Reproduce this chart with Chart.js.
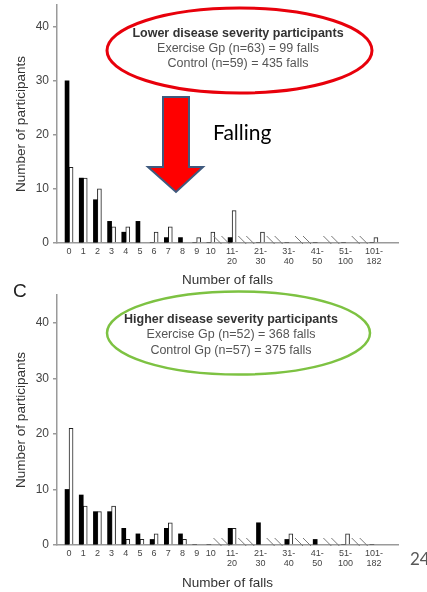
<!DOCTYPE html>
<html>
<head>
<meta charset="utf-8">
<script src="https://cdn.jsdelivr.net/npm/chart.js@4.4.1/dist/chart.umd.min.js"></script>
<style>
  html, body { margin: 0; padding: 0; background: #fff; }
  #wrap { position: relative; width: 427px; height: 592px; overflow: hidden; }
  .box { position: absolute; left: 0; width: 427px; }
  svg { position: absolute; left: 0; top: 0; }
</style>
</head>
<body>
<div id="wrap">
  <div class="box" style="top:0;height:290px"><canvas id="lowerChart"></canvas></div>
  <div class="box" style="top:290px;height:302px"><canvas id="higherChart"></canvas></div>
  <svg width="427" height="592" xmlns="http://www.w3.org/2000/svg">
    <ellipse cx="239.5" cy="50.5" rx="132.5" ry="42.5" fill="none" stroke="#e8000b" stroke-width="3"/>
    <text x="238" y="37" text-anchor="middle" font-family="Liberation Sans, Arial" font-size="12.5" font-weight="bold" fill="#333">Lower disease severity participants</text>
    <text x="238" y="52" text-anchor="middle" font-family="Liberation Sans, Arial" font-size="12.5" fill="#555">Exercise Gp (n=63) = 99 falls</text>
    <text x="238" y="67" text-anchor="middle" font-family="Liberation Sans, Arial" font-size="12.5" fill="#555">Control (n=59) = 435 falls</text>

    <path d="M163,97 L189,97 L189,167 L203,167 L176,192 L148,167 L163,167 Z" fill="#ff0000" stroke="#3f5a7e" stroke-width="2"/>
    <text x="213" y="140" font-family="Lato, sans-serif" font-size="21" fill="#000">Falling</text>

    <text x="13" y="297" font-family="Liberation Sans, Arial" font-size="19" fill="#222">C</text>

    <ellipse cx="238.5" cy="333" rx="131.5" ry="41.5" fill="none" stroke="#7dc242" stroke-width="2.5"/>
    <text x="231" y="323" text-anchor="middle" font-family="Liberation Sans, Arial" font-size="12.5" font-weight="bold" fill="#333">Higher disease severity participants</text>
    <text x="231" y="338" text-anchor="middle" font-family="Liberation Sans, Arial" font-size="12.5" fill="#555">Exercise Gp (n=52) = 368 falls</text>
    <text x="231" y="354" text-anchor="middle" font-family="Liberation Sans, Arial" font-size="12.5" fill="#555">Control Gp (n=57) = 375 falls</text>

    <text x="410" y="565" font-family="Lato, sans-serif" font-size="17" fill="#595959">24</text>
  </svg>
</div>
<script>
// number of falls (x categories)
const fallCategories = ['0','1','2','3','4','5','6','7','8','9','10','11-20','21-30','31-40','41-50','51-100','101-182'];

// lower disease severity
const lowerExercise = [30,12,8,4,2,4,0,1,1,0,0,1,0,0,0,0,0];
const lowerControl  = [14,12,10,3,3,0,2,3,0,1,2,6,2,0,0,0,1];

// higher disease severity
const higherExercise = [10,9,6,6,3,2,1,3,2,0,0,3,4,1,1,0,0];
const higherControl  = [21,7,6,7,1,1,2,4,1,0,0,3,0,2,0,2,0];

const yTicks = [0,10,20,30,40];

// broken axis: single counts take one unit, ranges take two
const xPos = fallCategories.map((c, i) => i <= 10 ? i : 11.5 + (i - 11) * 2);

const font = 'Liberation Sans, Arial, sans-serif';
const axisGrey = '#9a9a9a';

// the little // marks on the x axis
const axisBreaks = {
  id: 'axisBreaks',
  afterDraw(chart) {
    const ctx = chart.ctx;
    const x = chart.scales.x;
    const y0 = chart.scales.y.getPixelForValue(0);
    ctx.save();
    ctx.strokeStyle = '#777';
    ctx.lineWidth = 1;
    ctx.beginPath();
    for (let i = 10; i < xPos.length - 1; i++) {
      const px = x.getPixelForValue((xPos[i] + xPos[i + 1]) / 2);
      for (const d of [-4, 4]) {
        ctx.moveTo(px + d - 4, y0 - 7);
        ctx.lineTo(px + d + 4, y0 + 1);
      }
    }
    ctx.stroke();
    ctx.restore();
  }
};

function makeChart(id, exercise, control, yMax, titlePad) {
  return new Chart(id, {
    type: 'bar',
    data: {
      datasets: [{
        label: 'Exercise',
        data: exercise.map((v, i) => ({x: xPos[i], y: v})),
        backgroundColor: '#000',
        borderWidth: 0,
        barThickness: 4
      }, {
        label: 'Control',
        data: control.map((v, i) => ({x: xPos[i], y: v})),
        backgroundColor: '#fff',
        borderColor: '#222',
        borderWidth: 1,
        barThickness: 4
      }]
    },
    options: {
      responsive: true,
      maintainAspectRatio: false,
      animation: false,
      layout: {padding: {left: 0, right: 29, top: 5, bottom: 0}},
      plugins: {legend: {display: false}, tooltip: {enabled: false}},
      scales: {
        x: {
          type: 'linear',
          min: -0.85,
          max: 23.2,
          offset: false,
          grid: {display: false, drawTicks: false},
          border: {display: true, color: axisGrey, width: 1.5},
          afterBuildTicks: s => { s.ticks = xPos.map(v => ({value: v})); },
          afterFit: s => { s.height = 47; s.paddingLeft = 0; s.paddingRight = 0; },
          ticks: {
            autoSkip: false,
            maxRotation: 0,
            padding: 4,
            color: '#444',
            font: {family: font, size: 9, lineHeight: 1.1},
            callback: (v, i) => {
              const c = fallCategories[i];
              return c.includes('-') ? [c.split('-')[0] + '-', c.split('-')[1]] : c;
            }
          },
          title: {display: true, text: 'Number of falls', color: '#333',
                  font: {family: font, size: 13.5}, padding: {top: 0, bottom: titlePad}}
        },
        y: {
          min: 0,
          max: yMax,
          grid: {drawOnChartArea: false, drawTicks: true, tickLength: 4, color: axisGrey, lineWidth: 1.5},
          border: {display: true, color: axisGrey, width: 1.5},
          afterBuildTicks: s => { s.ticks = yTicks.map(v => ({value: v})); },
          afterFit: s => { s.width = 57; s.paddingTop = 0; s.paddingBottom = 0; },
          ticks: {padding: 4, color: '#444', font: {family: font, size: 12}},
          title: {display: true, text: 'Number of participants', color: '#333',
                  font: {family: font, size: 13.5}, padding: {top: 13, bottom: 0}}
        }
      }
    },
    plugins: [axisBreaks]
  });
}

makeChart('lowerChart', lowerExercise, lowerControl, 44, 2);
makeChart('higherChart', higherExercise, higherControl, 45, 1);
</script>
</body>
</html>
